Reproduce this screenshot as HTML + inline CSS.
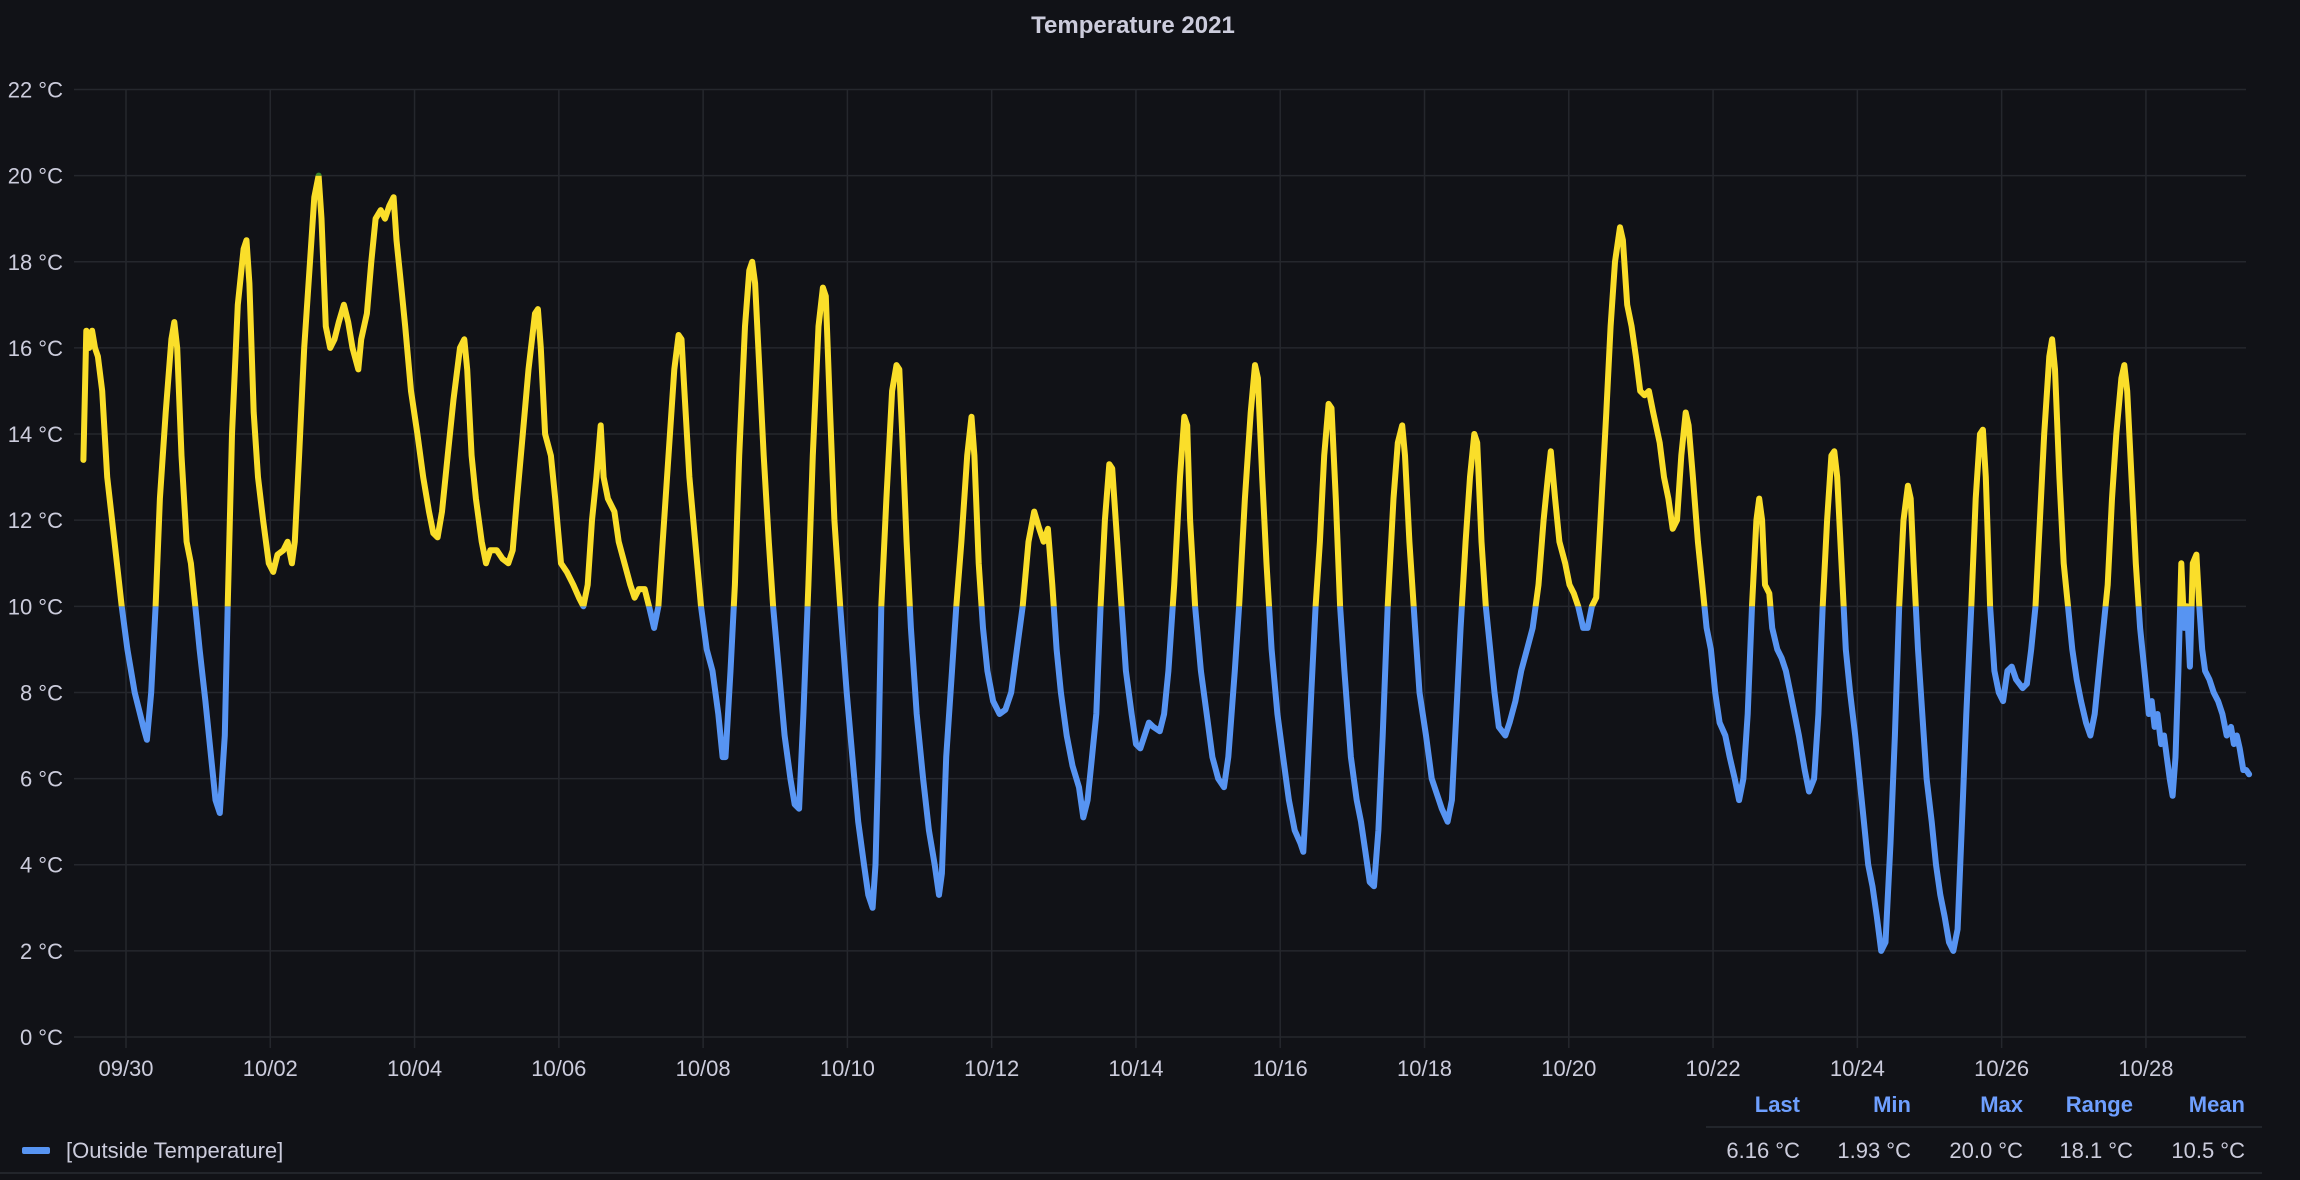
<!DOCTYPE html>
<html><head><meta charset="utf-8"><style>
html,body{margin:0;padding:0;background:#111217;}
body{width:2300px;height:1180px;overflow:hidden;font-family:"Liberation Sans",sans-serif;}
svg{display:block}
</style></head><body>
<svg id="chart" width="2300" height="1180" viewBox="0 0 2300 1180" xmlns="http://www.w3.org/2000/svg">
<rect x="0" y="0" width="2300" height="1180" fill="#111217"/>
<text x="1133" y="33" text-anchor="middle" fill="#ccccdc" font-size="24" font-weight="bold">Temperature 2021</text>
<g id="grid"></g>
<g id="yaxis"></g>
<g id="xaxis"></g>
<defs>
<clipPath id="clipHigh"><rect id="rHigh" x="0" y="0" width="2300" height="0"/></clipPath>
<clipPath id="clipMid"><rect id="rMid" x="0" y="0" width="2300" height="0"/></clipPath>
<clipPath id="clipLow"><rect id="rLow" x="0" y="0" width="2300" height="1180"/></clipPath>
</defs>
<g id="series"></g>
<g>
<rect x="22" y="1147" width="28" height="7" rx="2" fill="#5794F2"/>
<text x="66" y="1158" fill="#ccccdc" font-size="22">[Outside Temperature]</text>
</g>
<g id="stats">
<line x1="1706" y1="1127" x2="2262" y2="1127" stroke="#22252b" stroke-width="2"/>
<line x1="0" y1="1173" x2="2262" y2="1173" stroke="#22252b" stroke-width="2"/>
</g>
</svg>
<script>
const yTicks = [0,2,4,6,8,10,12,14,16,18,20,22];
const xTickLabels = ["09/30","10/02","10/04","10/06","10/08","10/10","10/12","10/14","10/16","10/18","10/20","10/22","10/24","10/26","10/28"];
const xTickDays = [0,2,4,6,8,10,12,14,16,18,20,22,24,26,28];
const thresholds = [10,20];
const statNames = ["Last","Min","Max","Range","Mean"];
const statValues = ["6.16 °C","1.93 °C","20.0 °C","18.1 °C","10.5 °C"];
// days since 09/30 00:00
const days = [-0.59,-0.55,-0.51,-0.47,-0.43,-0.39,-0.33,-0.26,-0.16,-0.06,0.02,0.12,0.24,0.29,0.35,0.41,0.47,0.55,0.63,0.67,0.71,0.77,0.84,0.90,0.96,1.02,1.10,1.18,1.24,1.30,1.37,1.41,1.47,1.55,1.63,1.67,1.71,1.77,1.83,1.90,1.98,2.04,2.10,2.18,2.24,2.30,2.34,2.40,2.47,2.55,2.61,2.67,2.71,2.77,2.83,2.89,2.95,3.02,3.08,3.14,3.22,3.26,3.34,3.40,3.46,3.53,3.59,3.65,3.71,3.75,3.81,3.87,3.95,4.04,4.12,4.20,4.26,4.32,4.38,4.46,4.54,4.63,4.69,4.73,4.79,4.85,4.93,4.99,5.05,5.14,5.22,5.30,5.36,5.42,5.50,5.58,5.67,5.71,5.75,5.81,5.89,5.95,6.03,6.11,6.20,6.28,6.34,6.40,6.46,6.52,6.58,6.62,6.68,6.77,6.83,6.91,6.99,7.05,7.11,7.19,7.25,7.32,7.38,7.44,7.52,7.60,7.66,7.70,7.74,7.81,7.89,7.97,8.05,8.13,8.21,8.27,8.31,8.38,8.44,8.50,8.58,8.64,8.68,8.72,8.78,8.84,8.91,8.97,9.05,9.13,9.21,9.27,9.33,9.39,9.46,9.52,9.60,9.66,9.70,9.76,9.82,9.90,9.99,10.07,10.15,10.23,10.29,10.35,10.39,10.43,10.47,10.54,10.62,10.68,10.72,10.76,10.82,10.88,10.96,11.05,11.13,11.21,11.27,11.31,11.37,11.45,11.51,11.58,11.66,11.72,11.76,11.82,11.88,11.94,12.02,12.11,12.19,12.27,12.35,12.43,12.51,12.59,12.66,12.72,12.78,12.84,12.90,12.96,13.04,13.12,13.21,13.27,13.33,13.39,13.45,13.51,13.57,13.63,13.67,13.74,13.80,13.86,13.94,14.00,14.06,14.12,14.18,14.24,14.33,14.39,14.45,14.53,14.61,14.67,14.71,14.75,14.82,14.90,14.98,15.06,15.14,15.22,15.28,15.37,15.43,15.51,15.59,15.65,15.69,15.75,15.81,15.88,15.96,16.04,16.12,16.20,16.28,16.32,16.36,16.43,16.49,16.55,16.61,16.67,16.71,16.77,16.83,16.89,16.98,17.06,17.12,17.18,17.24,17.30,17.36,17.42,17.49,17.57,17.63,17.69,17.73,17.79,17.87,17.93,18.02,18.10,18.18,18.24,18.32,18.38,18.44,18.50,18.57,18.63,18.69,18.73,18.79,18.85,18.91,18.97,19.03,19.12,19.18,19.26,19.34,19.42,19.50,19.58,19.65,19.71,19.75,19.81,19.87,19.95,20.01,20.07,20.13,20.20,20.26,20.32,20.38,20.44,20.52,20.58,20.64,20.71,20.75,20.81,20.87,20.93,20.99,21.05,21.11,21.17,21.26,21.32,21.38,21.44,21.50,21.56,21.62,21.66,21.72,21.79,21.85,21.91,21.97,22.03,22.09,22.17,22.23,22.30,22.36,22.42,22.48,22.54,22.60,22.64,22.68,22.72,22.78,22.82,22.89,22.95,23.01,23.07,23.13,23.19,23.27,23.33,23.40,23.46,23.52,23.58,23.64,23.68,23.72,23.78,23.84,23.90,23.97,24.03,24.09,24.15,24.21,24.27,24.33,24.39,24.46,24.52,24.58,24.64,24.70,24.74,24.78,24.84,24.90,24.96,25.03,25.09,25.15,25.21,25.27,25.33,25.39,25.45,25.51,25.58,25.64,25.70,25.74,25.78,25.84,25.90,25.96,26.02,26.08,26.14,26.20,26.29,26.35,26.41,26.47,26.53,26.59,26.66,26.70,26.74,26.80,26.86,26.92,26.98,27.04,27.10,27.17,27.23,27.29,27.35,27.41,27.47,27.53,27.59,27.66,27.70,27.74,27.80,27.86,27.92,27.98,28.04,28.08,28.12,28.16,28.21,28.25,28.29,28.33,28.37,28.41,28.45,28.49,28.53,28.57,28.61,28.65,28.70,28.74,28.78,28.82,28.88,28.94,29.00,29.06,29.12,29.18,29.22,29.26,29.30,29.35,29.39,29.43];
const temps = [13.4,16.4,16.0,16.4,16.0,15.8,15.0,13.0,11.5,10.0,9.0,8.0,7.2,6.9,8.0,10.0,12.5,14.5,16.2,16.6,16.0,13.5,11.5,11.0,10.0,9.0,7.8,6.5,5.5,5.2,7.0,10.0,14.0,17.0,18.3,18.5,17.5,14.5,13.0,12.0,11.0,10.8,11.2,11.3,11.5,11.0,11.5,13.5,16.0,18.0,19.5,20.0,19.0,16.5,16.0,16.2,16.6,17.0,16.6,16.0,15.5,16.2,16.8,18.0,19.0,19.2,19.0,19.3,19.5,18.5,17.5,16.5,15.0,14.0,13.0,12.2,11.7,11.6,12.2,13.5,14.8,16.0,16.2,15.5,13.5,12.5,11.5,11.0,11.3,11.3,11.1,11.0,11.3,12.5,14.0,15.5,16.8,16.9,16.0,14.0,13.5,12.5,11.0,10.8,10.5,10.2,10.0,10.5,12.0,13.0,14.2,13.0,12.5,12.2,11.5,11.0,10.5,10.2,10.4,10.4,10.0,9.5,10.0,11.5,13.5,15.5,16.3,16.2,15.0,13.0,11.5,10.0,9.0,8.5,7.5,6.5,6.5,8.5,10.5,13.5,16.5,17.8,18.0,17.5,15.5,13.5,11.5,10.0,8.5,7.0,6.0,5.4,5.3,7.5,10.5,13.5,16.5,17.4,17.2,14.5,12.0,10.0,8.0,6.5,5.0,4.0,3.3,3.0,4.0,6.5,10.0,12.5,15.0,15.6,15.5,14.0,11.5,9.5,7.5,6.0,4.8,4.0,3.3,3.8,6.5,8.5,10.0,11.5,13.5,14.4,13.5,11.0,9.5,8.5,7.8,7.5,7.6,8.0,9.0,10.0,11.5,12.2,11.8,11.5,11.8,10.5,9.0,8.0,7.0,6.3,5.8,5.1,5.5,6.5,7.5,10.0,12.0,13.3,13.2,11.5,10.0,8.5,7.5,6.8,6.7,7.0,7.3,7.2,7.1,7.5,8.5,10.5,13.0,14.4,14.2,12.0,10.0,8.5,7.5,6.5,6.0,5.8,6.5,8.5,10.0,12.5,14.5,15.6,15.3,13.0,11.0,9.0,7.5,6.5,5.5,4.8,4.5,4.3,5.5,8.0,10.0,11.5,13.5,14.7,14.6,12.5,10.0,8.5,6.5,5.5,5.0,4.3,3.6,3.5,4.8,7.0,10.0,12.5,13.8,14.2,13.5,11.5,9.5,8.0,7.0,6.0,5.6,5.3,5.0,5.5,7.5,9.5,11.5,13.0,14.0,13.8,11.5,10.0,9.0,8.0,7.2,7.0,7.3,7.8,8.5,9.0,9.5,10.5,12.0,13.0,13.6,12.5,11.5,11.0,10.5,10.3,10.0,9.5,9.5,10.0,10.2,12.0,14.5,16.5,18.0,18.8,18.5,17.0,16.5,15.8,15.0,14.9,15.0,14.5,13.8,13.0,12.5,11.8,12.0,13.5,14.5,14.2,13.0,11.5,10.5,9.5,9.0,8.0,7.3,7.0,6.5,6.0,5.5,6.0,7.5,10.0,12.0,12.5,12.0,10.5,10.3,9.5,9.0,8.8,8.5,8.0,7.5,7.0,6.2,5.7,6.0,7.5,10.0,12.0,13.5,13.6,13.0,11.0,9.0,8.0,7.0,6.0,5.0,4.0,3.5,2.8,2.0,2.2,4.5,7.0,10.0,12.0,12.8,12.5,11.0,9.0,7.5,6.0,5.0,4.0,3.3,2.8,2.2,2.0,2.5,5.0,7.5,10.0,12.5,14.0,14.1,13.0,10.0,8.5,8.0,7.8,8.5,8.6,8.3,8.1,8.2,9.0,10.0,12.0,14.0,15.8,16.2,15.5,13.0,11.0,10.0,9.0,8.3,7.8,7.3,7.0,7.5,8.5,9.5,10.5,12.5,14.0,15.3,15.6,15.0,13.0,11.0,9.5,8.5,7.5,7.8,7.2,7.5,6.8,7.0,6.5,6.0,5.6,6.5,8.5,11.0,9.5,10.0,8.6,11.0,11.2,10.0,9.0,8.5,8.3,8.0,7.8,7.5,7.0,7.2,6.8,7.0,6.7,6.2,6.2,6.1];

const NS = "http://www.w3.org/2000/svg";
const plotLeft = 74, plotRight = 2246, y0px = 1037, y22px = 89.5;
const x0px = 126, pxPerDay = 72.14;
function xScale(d){ return x0px + d * pxPerDay; }
function yScale(v){ return y0px - (v / 22) * (y0px - y22px); }
function mk(tag, attrs){ const e = document.createElementNS(NS, tag); for (const k in attrs) e.setAttribute(k, attrs[k]); return e; }

const grid = document.getElementById('grid');
const yaxis = document.getElementById('yaxis');
const xaxis = document.getElementById('xaxis');
yTicks.forEach(t => {
  const y = yScale(t);
  const l = mk('line', {x1: plotLeft, x2: plotRight, y1: y, y2: y, stroke: '#25272d', 'stroke-width': 1.5});
  
  
  grid.appendChild(l);
  const tx = mk('text', {x: 63, y: y + 8, 'text-anchor': 'end', fill: '#ccccdc', 'font-size': 22});
  
  
  tx.textContent = t + ' °C';
  yaxis.appendChild(tx);
});
xTickDays.forEach((d, i) => {
  const x = xScale(d);
  const l = mk('line', {x1: x, x2: x, y1: y22px, y2: 1048, stroke: '#25272d', 'stroke-width': 1.5});
  
  
  grid.appendChild(l);
  const tx = mk('text', {x: x, y: 1076, 'text-anchor': 'middle', fill: '#ccccdc', 'font-size': 22});
  
  
  tx.textContent = xTickLabels[i];
  xaxis.appendChild(tx);
});

const yT10 = yScale(thresholds[0]), yT20 = yScale(thresholds[1]);
document.getElementById('rHigh').setAttribute('height', yT20);
document.getElementById('rMid').setAttribute('y', yT20);
document.getElementById('rMid').setAttribute('height', yT10 - yT20);
document.getElementById('rLow').setAttribute('y', yT10);
document.getElementById('rLow').setAttribute('height', 1180 - yT10);

const dstr = days.map((d, i) => (i ? 'L' : 'M') + xScale(d).toFixed(1) + ' ' + yScale(temps[i]).toFixed(1)).join(' ');
const series = document.getElementById('series');
[['clipLow', '#5794F2', 'series-line-below-10'], ['clipMid', '#FADE2A', 'series-line-10-to-20'], ['clipHigh', '#37872D', 'series-line-above-20']].forEach(s => {
  const p = mk('path', {d: dstr, fill: 'none', stroke: s[1], 'stroke-width': 6, 'stroke-linejoin': 'round', 'stroke-linecap': 'round', 'clip-path': 'url(#' + s[0] + ')'});
  
  
  series.appendChild(p);
});

const stats = document.getElementById('stats');
const statRight = [1800, 1911, 2023, 2133, 2245];
statNames.forEach((n, i) => {
  const h = mk('text', {x: statRight[i], y: 1112, 'text-anchor': 'end', fill: '#6E9FFF', 'font-size': 22, 'font-weight': 'bold'});
  
  
  h.textContent = n;
  stats.appendChild(h);
  const v = mk('text', {x: statRight[i], y: 1158, 'text-anchor': 'end', fill: '#ccccdc', 'font-size': 22});
  
  
  v.textContent = statValues[i];
  stats.appendChild(v);
});
</script>
</body></html>
